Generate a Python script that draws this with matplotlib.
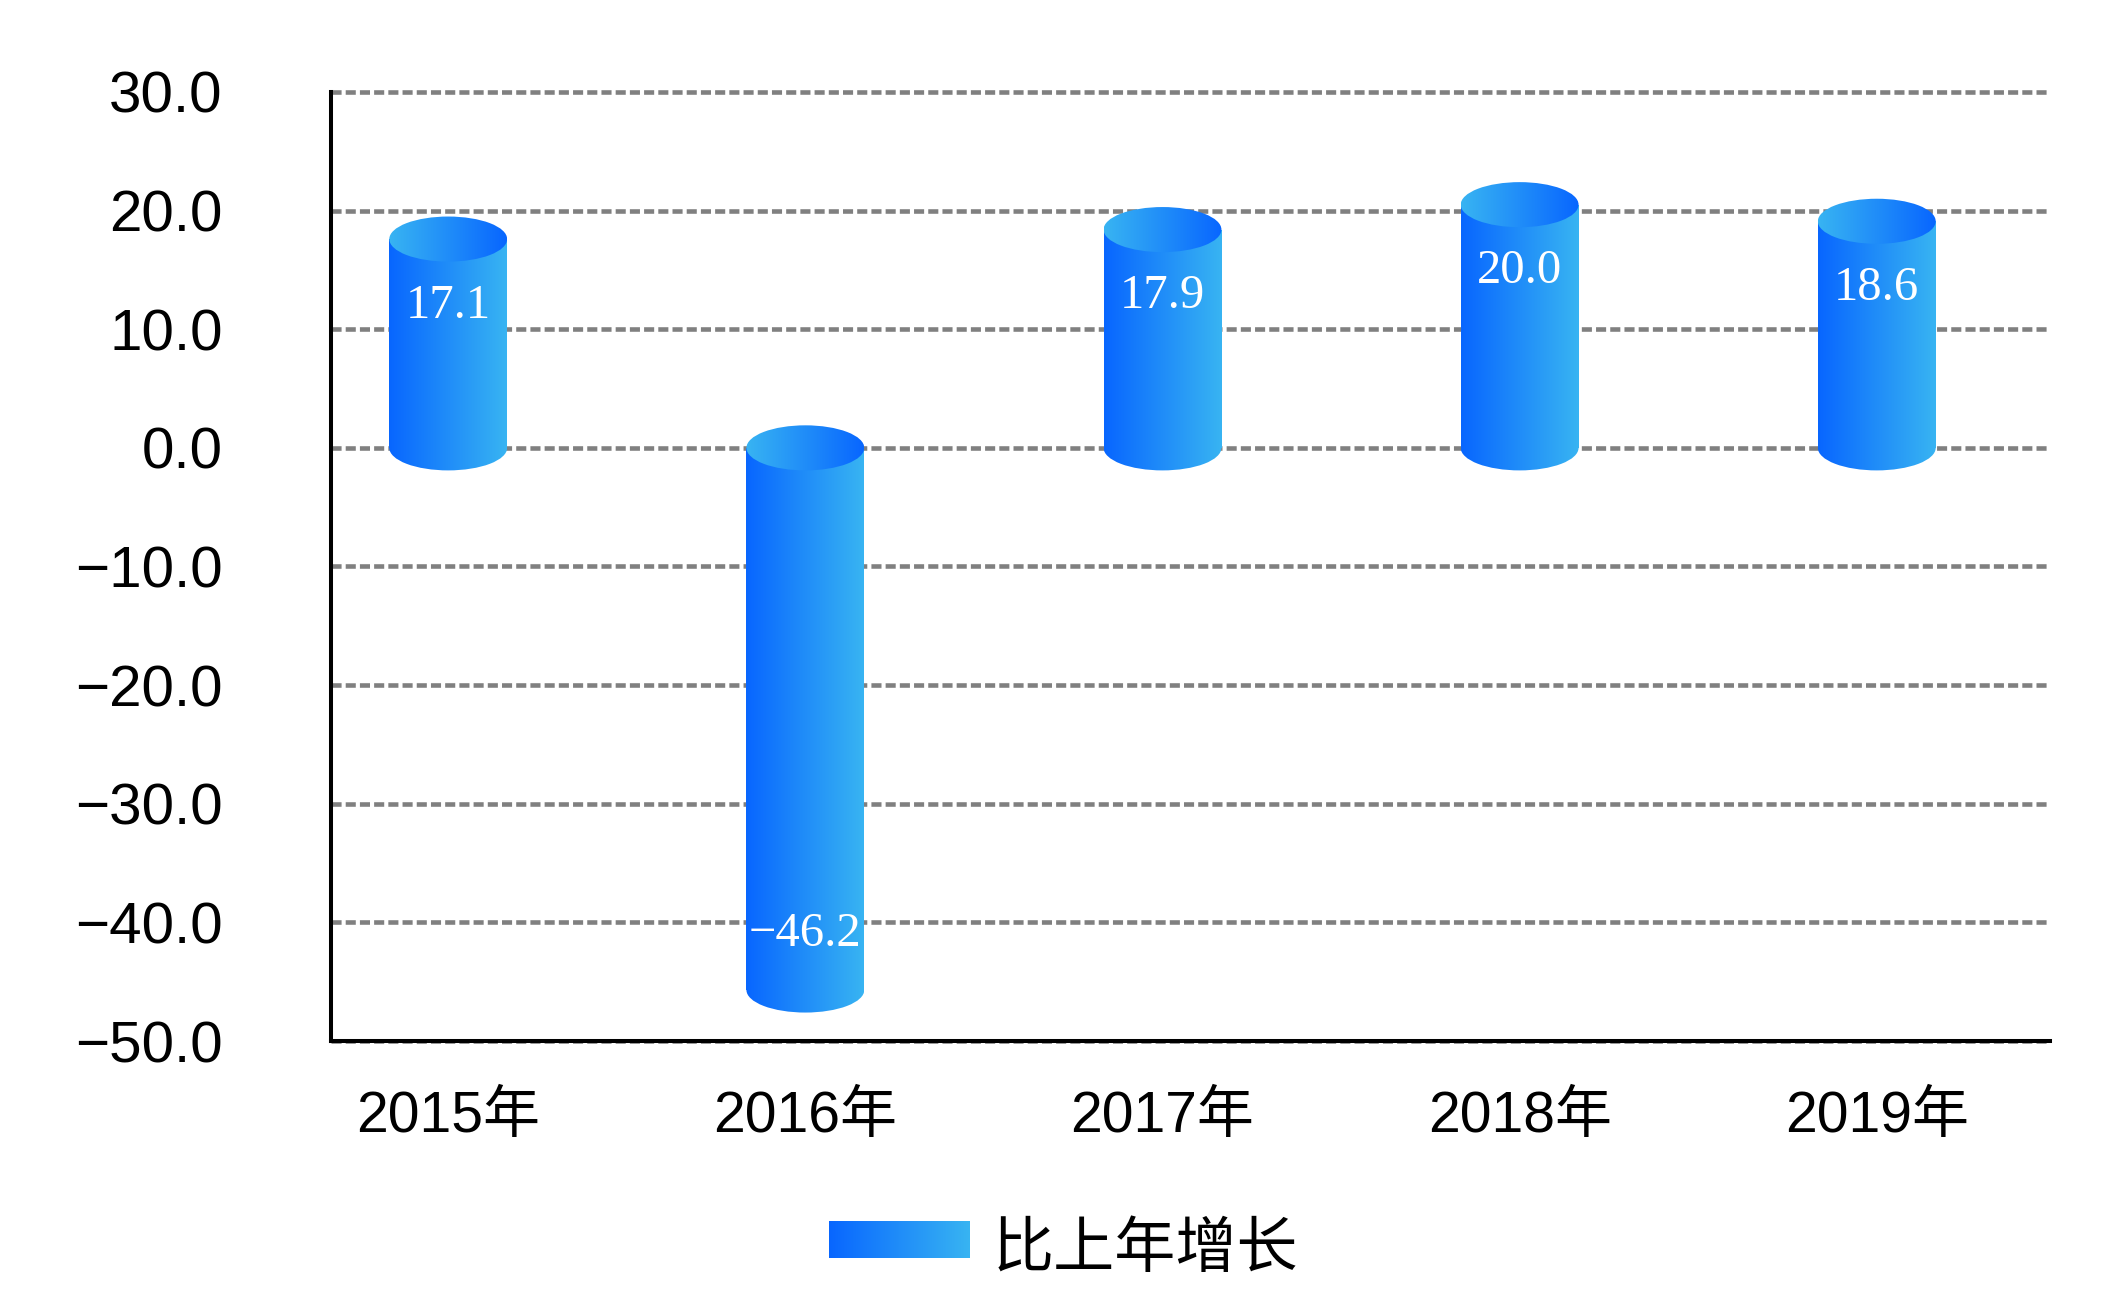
import numpy as np
import matplotlib.pyplot as plt
from matplotlib.colors import LinearSegmentedColormap
from matplotlib.patches import Ellipse, Rectangle

# data
years = ['2015年', '2016年', '2017年', '2018年', '2019年']
growth = [17.1, -46.2, 17.9, 20.0, 18.6]
yticks = [-50, -40, -30, -20, -10, 0, 10, 20, 30]
legend_label = '比上年增长'

# colours of the cylinders (left -> right gradient, cap reversed)
dark = '#0866FF'
light = '#38B4F2'
body_cmap = LinearSegmentedColormap.from_list('body', [dark, light])
cap_cmap = LinearSegmentedColormap.from_list('cap', [light, dark])
grad = np.linspace(0, 1, 256).reshape(1, -1)

plt.rcParams['font.family'] = ['Liberation Sans', 'Noto Sans CJK SC']

fig = plt.figure(figsize=(21.25, 12.99), dpi=100)
ax = fig.add_axes([0.1558, 0.1986, 0.8089, 0.7306])

bar_w = 0.33
cap_h = 3.8  # height of the ellipses, in data units


def fill_gradient(patch, cmap, x0, x1, y0, y1):
    # add an invisible patch and clip a gradient image to it
    patch.set_facecolor('none')
    patch.set_edgecolor('none')
    ax.add_patch(patch)
    im = ax.imshow(grad, cmap=cmap, extent=(x0, x1, y0, y1), aspect='auto',
                   interpolation='bicubic', zorder=3)
    im.set_clip_path(patch)


for i, v in enumerate(growth):
    # the original drawing ends each cylinder a touch above its value
    end = v + 0.5
    lo, hi = min(0, end), max(0, end)
    x0, x1 = i - bar_w / 2, i + bar_w / 2
    # body: rectangle + lower half ellipse
    fill_gradient(Rectangle((x0, lo), bar_w, hi - lo), body_cmap, x0, x1, lo, hi)
    fill_gradient(Ellipse((i, lo), bar_w, cap_h), body_cmap, x0, x1,
                  lo - cap_h, lo + cap_h)
    # top cap
    fill_gradient(Ellipse((i, hi), bar_w, cap_h), cap_cmap, x0, x1,
                  hi - cap_h, hi + cap_h)
    # value label inside the bar
    ty = v - 5.1 if v > 0 else v + 5.2
    ax.text(i, ty, f'{v:.1f}'.replace('-', '\u2212'), ha='center', va='center',
            color='white', fontsize=35, family='Liberation Serif', zorder=5)

ax.set_xlim(-0.328, 4.485)
ax.set_ylim(-50, 30)
ax.set_yticks(yticks, labels=[f'{t:.1f}'.replace('-', '\u2212') for t in yticks])
ax.set_xticks(range(len(years)), labels=years)

ax.yaxis.grid(True, color='#808080', linestyle=(0, (2.2, 0.9)), linewidth=3.3,
              clip_on=False)
ax.set_axisbelow(True)

for s in ['top', 'right']:
    ax.spines[s].set_visible(False)
for s in ['left', 'bottom']:
    ax.spines[s].set_linewidth(2.9)
    ax.spines[s].set_color('black')

ax.tick_params(axis='y', length=0, pad=78, labelsize=42)
ax.tick_params(axis='x', length=0, pad=35, labelsize=41)

# legend: gradient swatch + label
lax = fig.add_axes([829 / 2125, 1 - 1258 / 1299, 141 / 2125, 37 / 1299])
lax.imshow(grad, cmap=body_cmap, aspect='auto', interpolation='bicubic')
lax.axis('off')
fig.text(993 / 2125, 1 - 1250 / 1299, legend_label, ha='left', va='center',
         fontsize=44, family=['Noto Sans CJK SC'])

fig.savefig('out.png', dpi=100)
